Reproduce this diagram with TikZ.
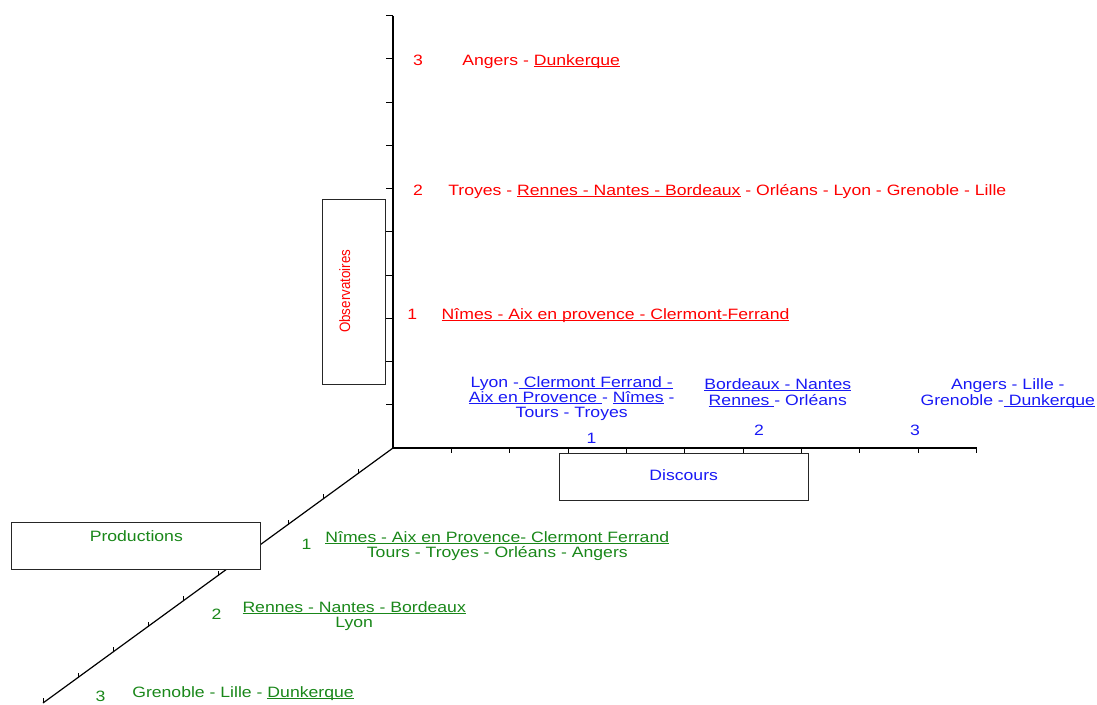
\documentclass[tikz,border=0pt]{standalone}
\usepackage{fontspec}
\setmainfont{Liberation Sans}[FakeStretch=1.175]
\newfontfamily\condfont{Liberation Sans}[FakeStretch=0.89]
\definecolor{obsred}{RGB}{255,0,0}
\definecolor{disblue}{RGB}{25,25,245}
\definecolor{progreen}{RGB}{25,135,25}
\newcommand\uln[1]{\setbox0\hbox{#1}\rlap{\rule[-1.6pt]{\wd0}{0.9pt}}\box0\relax}
\begin{document}
\begin{tikzpicture}[x=1pt,y=-1pt,
  every node/.style={inner sep=0pt, outer sep=0pt, font=\fontsize{15}{15.3}\selectfont},
  axis/.style={line width=1.2pt, black},
  tick/.style={line width=1pt, black},
  boxnode/.style={draw=black!85, line width=0.9pt, fill=white, anchor=north west},
  lw/.style={anchor=base west},
  lc/.style={anchor=base},
  red/.style={text=obsred},
  blue/.style={text=disblue},
  green/.style={text=progreen}]
\useasboundingbox (0,0) rectangle (1097,704);
% axes
\coordinate (O) at (393,448);
\coordinate (ytop) at (393,15.7);
\coordinate (xend) at (976.7,448);
\coordinate (zend) at (43,703);
\draw[axis] (ytop) -- (O) -- (xend);
\draw[axis] (O) -- (zend);
\foreach \i in {0,...,9} \draw[tick] (386,15.7+43.25*\i) -- (393,15.7+43.25*\i);
\foreach \i in {1,...,10} \draw[tick] (393+58.37*\i,448) -- (393+58.37*\i,453);
\foreach \i in {1,...,10} \draw[tick] (393-35*\i,448+25.5*\i) -- (393-35*\i,443+25.5*\i);
% boxes
\node[boxnode, minimum width=63pt, minimum height=184.7pt] (obsbox) at (322.7,199.3) {};
\node[boxnode, minimum width=249pt, minimum height=46.7pt] (disbox) at (559.3,453.3) {};
\node[boxnode, minimum width=249pt, minimum height=46.6pt] (probox) at (11.7,522.7) {};
% box labels
\node[red, anchor=base, rotate=90, font=\condfont\fontsize{15}{15.3}\selectfont] (obslbl) at (350,291.3) {Observatoires};
\node[blue, lc] (dislbl) at (683.7,480.7) {Discours};
\node[green, lc] (prolbl) at (136.3,541.7) {Productions};
% red (Observatoires)
\node[red, lw] (r3n) at (413,65.7) {3};
\node[red, lw] (r3t) at (462.3,65.7) {Angers - \uln{Dunkerque}};
\node[red, lw] (r2n) at (413,195.7) {2};
\node[red, lw] (r2t) at (448.3,195.7) {Troyes - \uln{Rennes - Nantes - Bordeaux} - Orléans - Lyon - Grenoble - Lille};
\node[red, lw] (r1n) at (407.3,319.3) {1};
\node[red, lw] (r1t) at (441.7,319.3) {\uln{Nîmes - Aix en provence - Clermont-Ferrand}};
% blue (Discours)
\node[blue, lc] (b1a) at (571.7,387.3) {Lyon -\uln{ Clermont Ferrand -}};
\node[blue, lc] (b1b) at (571.7,402.5) {\uln{Aix en Provence }- \uln{Nîmes} -};
\node[blue, lc] (b1c) at (571.7,417.7) {Tours - Troyes};
\node[blue, lw] (b1n) at (586.7,443.3) {1};
\node[blue, lc] (b2a) at (777.8,389.3) {\uln{Bordeaux - Nantes}};
\node[blue, lc] (b2b) at (777.8,405.7) {\uln{Rennes }- Orléans};
\node[blue, lw] (b2n) at (754,435) {2};
\node[blue, lc] (b3a) at (1007.8,389.3) {Angers - Lille -};
\node[blue, lc] (b3b) at (1007.8,405.7) {Grenoble -\uln{ Dunkerque}};
\node[blue, lw] (b3n) at (910,435) {3};
% green (Productions)
\node[green, lw] (g1n) at (301.7,549.5) {1};
\node[green, lc] (g1a) at (497.3,542.3) {\uln{Nîmes - Aix en Provence- Clermont Ferrand}};
\node[green, lc] (g1b) at (497.3,557.7) {Tours - Troyes - Orléans - Angers};
\node[green, lw] (g2n) at (211.7,619) {2};
\node[green, lc] (g2a) at (354.2,612.3) {\uln{Rennes - Nantes - Bordeaux}};
\node[green, lc] (g2b) at (354.2,627.3) {Lyon};
\node[green, lw] (g3n) at (95.5,701.7) {3};
\node[green, lw] (g3t) at (132.3,697.3) {Grenoble - Lille - \uln{Dunkerque}};
\end{tikzpicture}
\end{document}
